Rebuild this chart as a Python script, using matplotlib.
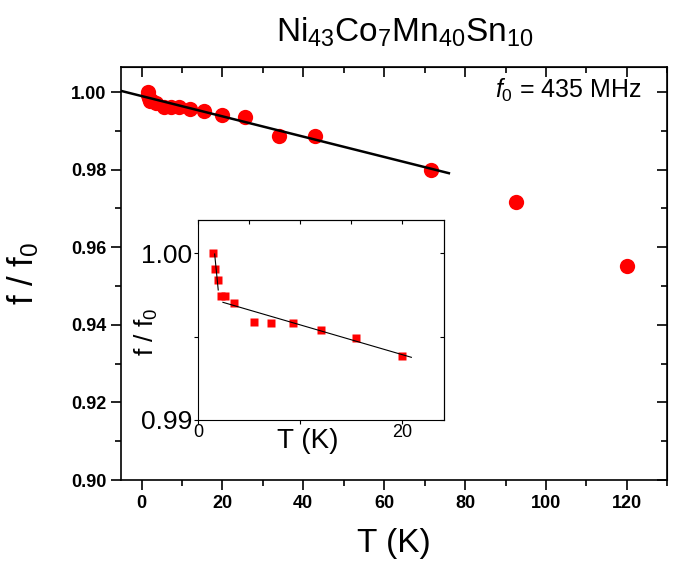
import numpy as np
import matplotlib
matplotlib.use("Agg")
import matplotlib.pyplot as plt
from matplotlib.ticker import MultipleLocator, FormatStrFormatter

plt.rcParams['font.family'] = ['Liberation Sans', 'DejaVu Sans']
plt.rcParams['mathtext.fontset'] = 'custom'
plt.rcParams['mathtext.rm'] = 'Liberation Sans'
plt.rcParams['mathtext.it'] = 'Liberation Sans:italic'

# main panel data
T_main = [1.5, 1.7, 1.9, 2.2, 2.6, 3.5, 5.5, 7.2, 9.3, 12.0, 15.5, 20.0,
          25.7, 34.0, 42.9, 71.6, 92.7, 120.0]
f_main = [1.0000, 0.9992, 0.9985, 0.9977, 0.9977, 0.9972, 0.9962, 0.9962,
          0.9962, 0.9956, 0.9951, 0.9942, 0.9936, 0.9886, 0.9888, 0.9800,
          0.9718, 0.9553]
fit_T = [-5.0, 76.0]
fit_f = [1.0003, 0.9791]

# inset data
T_in = [1.5, 1.69, 1.92, 2.21, 2.63, 3.54, 5.53, 7.19, 9.33, 12.07, 15.5, 20.0]
f_in = [1.0000, 0.99906, 0.9984, 0.99744, 0.99744, 0.99704, 0.99586, 0.99582,
        0.99582, 0.99538, 0.9949, 0.99386]
fit1_T = [1.63, 1.98]
fit1_f = [0.99996, 0.9978]
fit2_T = [2.44, 20.9]
fit2_f = [0.99706, 0.99376]

fig = plt.figure(figsize=(6.74, 5.67), dpi=100)
ax = fig.add_axes([0.18, 0.1534, 0.81, 0.7286])

ax.plot(fit_T, fit_f, color='black', lw=1.8, zorder=3)
ax.plot(T_main, f_main, 'o', color='#ff0000', ms=11, mec='none', zorder=2)

ax.set_xlim(-5, 130)
ax.set_ylim(0.90, 1.0065)
ax.xaxis.set_major_locator(MultipleLocator(20))
ax.xaxis.set_minor_locator(MultipleLocator(10))
ax.yaxis.set_major_locator(MultipleLocator(0.02))
ax.yaxis.set_minor_locator(MultipleLocator(0.01))
ax.yaxis.set_major_formatter(FormatStrFormatter('%.2f'))
ax.tick_params(which='both', direction='out', top=False, right=False, width=1.2)
ax.tick_params(which='major', length=7, labelsize=13)
ax.tick_params(which='minor', length=4)
for lab in ax.get_xticklabels() + ax.get_yticklabels():
    lab.set_fontweight('bold')
# inward ticks on top and right
axt = ax.secondary_xaxis('top')
axt.xaxis.set_major_locator(MultipleLocator(20))
axt.xaxis.set_minor_locator(MultipleLocator(10))
axt.tick_params(which='both', direction='in', labeltop=False, width=1.2)
axt.tick_params(which='major', length=7)
axt.tick_params(which='minor', length=4)
axr = ax.secondary_yaxis('right')
axr.yaxis.set_major_locator(MultipleLocator(0.02))
axr.yaxis.set_minor_locator(MultipleLocator(0.01))
axr.tick_params(which='both', direction='in', labelright=False, width=1.2)
axr.tick_params(which='major', length=7)
axr.tick_params(which='minor', length=4)
for s in ax.spines.values():
    s.set_linewidth(1.2)

ax.set_xlabel('T (K)', fontsize=24, labelpad=12)
ax.set_ylabel(r'f / f$_0$', fontsize=25, labelpad=22)
ax.set_title(r'Ni$_{43}$Co$_7$Mn$_{40}$Sn$_{10}$', fontsize=24, pad=18, x=0.52)
ax.text(0.954, 0.944, r'$f_0$ = 435 MHz', transform=ax.transAxes,
        ha='right', va='center', fontsize=18)

# inset
ins = fig.add_axes([0.2938, 0.2593, 0.365, 0.3527])
ins.plot(fit1_T, fit1_f, color='black', lw=0.8, zorder=3)
ins.plot(fit2_T, fit2_f, color='black', lw=0.8, zorder=3)
ins.plot(T_in, f_in, 's', color='#ff0000', ms=5.5, mec='none', zorder=2)
ins.set_xlim(0, 24.1)
ins.set_ylim(0.99, 1.002)
ins.xaxis.set_major_locator(MultipleLocator(20))
ins.xaxis.set_minor_locator(MultipleLocator(10))
ins.yaxis.set_major_locator(MultipleLocator(0.01))
ins.yaxis.set_minor_locator(MultipleLocator(0.005))
ins.yaxis.set_major_formatter(FormatStrFormatter('%.2f'))
ins.tick_params(which='both', direction='out', top=False, right=False, width=0.8)
ins.tick_params(axis='x', which='major', length=3, labelsize=13, pad=0)
ins.tick_params(axis='y', which='major', length=3, labelsize=19, pad=1)
ins.tick_params(which='minor', length=3)
it = ins.secondary_xaxis('top')
it.xaxis.set_major_locator(MultipleLocator(5))
it.tick_params(direction='in', labeltop=False, length=3, width=0.8)
ir = ins.secondary_yaxis('right')
ir.yaxis.set_major_locator(MultipleLocator(0.005))
ir.tick_params(direction='in', labelright=False, length=3, width=0.8)
for s in ins.spines.values():
    s.set_linewidth(0.8)
ins.set_xlabel('T (K)', fontsize=20)
ins.xaxis.set_label_coords(0.447, -0.04)
ins.set_ylabel(r'f / f$_0$', fontsize=19)
ins.yaxis.set_label_coords(-0.155, 0.44)

fig.savefig('out.png', dpi=100)
